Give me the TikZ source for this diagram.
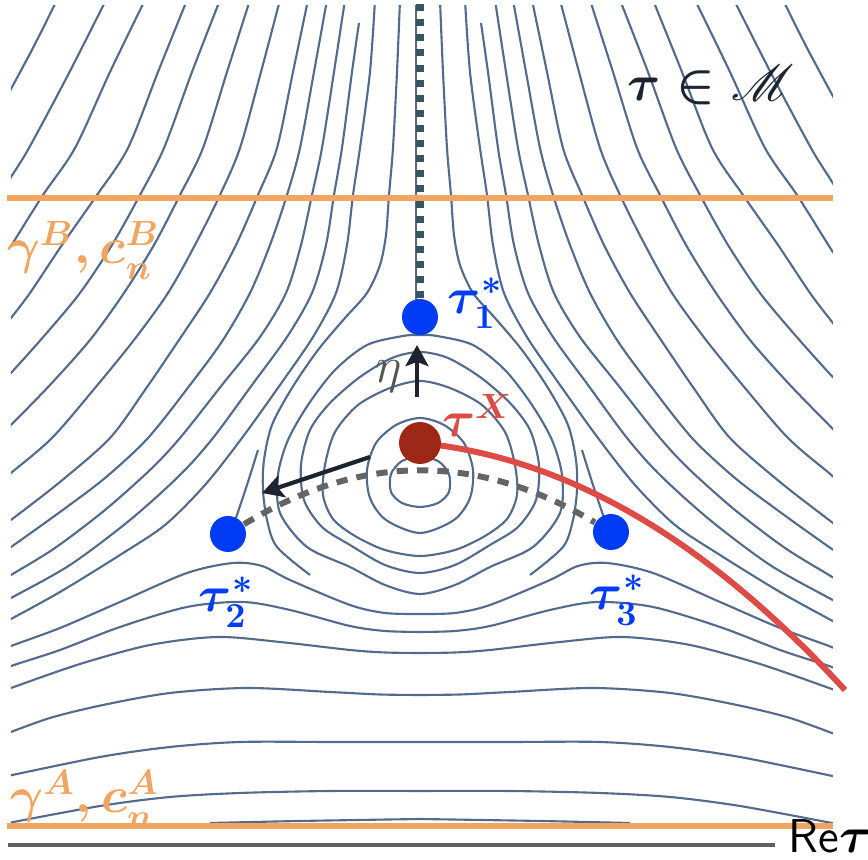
\documentclass[tikz,border=0pt]{standalone}
\usepackage{amsmath,amssymb}
\usepackage{mathrsfs}
\usepackage{tikz}
\usetikzlibrary{arrows.meta}

\definecolor{levc}{RGB}{82,106,140}
\definecolor{pathc}{RGB}{240,165,98}
\definecolor{saddlec}{RGB}{0,60,245}
\definecolor{minc}{RGB}{158,40,24}
\definecolor{flowc}{RGB}{220,75,70}
\definecolor{axc}{RGB}{95,95,95}
\definecolor{dashc}{RGB}{100,100,100}
\definecolor{ridgec}{RGB}{55,85,95}
\definecolor{inkc}{RGB}{30,35,48}
\definecolor{etac}{RGB}{85,85,85}

\begin{document}
\begin{tikzpicture}[
  isoline/.style={levc, line width=0.6pt},
  gate/.style={pathc, line width=1.5pt},
  crit/.style={circle, fill=saddlec, inner sep=0pt, minimum size=0.36cm},
  push/.style={inkc, line width=1.2pt, -{Stealth[length=6pt, width=6.5pt, inset=1.2pt]}},
  lab/.style={inner sep=0pt, font=\fontsize{14}{17}\selectfont\boldmath}]
\useasboundingbox (-4.20,-0.15) rectangle (4.48,8.45);
% линии уровня
\begin{scope}
\clip (-4.09,0.21) rectangle (4.13,8.39);
\foreach \s in {1,-1} {
\begin{scope}[xscale=\s]
\draw [isoline] plot [smooth] coordinates {(-3.63,8.45) (-3.86,7.99) (-4.09,7.56) (-4.18,7.40)};
\draw [isoline] plot [smooth] coordinates {(-3.14,8.45) (-3.52,7.70) (-3.91,6.97) (-4.09,6.68) (-4.17,6.55)};
\draw [isoline] plot [smooth] coordinates {(-2.75,8.45) (-3.10,7.73) (-3.45,6.97) (-3.77,6.50) (-4.09,5.99) (-4.17,5.87)};
\draw [isoline] plot [smooth] coordinates {(-2.33,8.45) (-2.62,7.73) (-2.92,6.97) (-3.23,6.50) (-3.58,6.00) (-3.90,5.52) (-4.09,5.27) (-4.17,5.17)};
\draw [isoline] plot [smooth] coordinates {(-2.00,8.45) (-2.28,7.73) (-2.56,6.97) (-2.80,6.50) (-3.08,6.00) (-3.40,5.52) (-3.75,5.10) (-4.09,4.72) (-4.17,4.64)};
\draw [isoline] plot [smooth] coordinates {(-1.70,8.45) (-1.93,7.73) (-2.17,6.97) (-2.40,6.50) (-2.66,6.00) (-2.96,5.52) (-3.30,5.05) (-3.70,4.60) (-4.09,4.20) (-4.17,4.12)};
\draw [isoline] plot [smooth] coordinates {(-1.40,8.45) (-1.59,7.73) (-1.80,6.97) (-2.00,6.50) (-2.25,6.00) (-2.52,5.52) (-2.86,5.05) (-3.25,4.57) (-3.68,4.07) (-4.09,3.72) (-4.17,3.65)};
\draw [isoline] plot [smooth] coordinates {(-1.12,8.45) (-1.27,7.73) (-1.43,6.97) (-1.62,6.50) (-1.84,6.00) (-2.10,5.52) (-2.41,5.05) (-2.75,4.55) (-3.10,4.07) (-3.60,3.63) (-4.09,3.25) (-4.17,3.19)};
\draw [isoline] plot [smooth] coordinates {(-0.93,8.45) (-1.06,7.73) (-1.20,6.97) (-1.33,6.50) (-1.50,6.00) (-1.70,5.52) (-1.97,5.05) (-2.30,4.60) (-2.72,4.07) (-3.15,3.67) (-3.60,3.33) (-4.09,2.98) (-4.17,2.93)};
\draw [isoline] plot [smooth] coordinates {(-0.75,8.45) (-0.86,7.73) (-0.98,6.97) (-1.08,6.50) (-1.19,6.00) (-1.34,5.52) (-1.60,5.08) (-1.98,4.60) (-2.40,4.07) (-2.70,3.75) (-3.15,3.35) (-3.65,2.97) (-4.09,2.70) (-4.17,2.65)};
\draw [isoline] plot [smooth] coordinates {(-0.61,8.22) (-0.68,7.73) (-0.78,6.97) (-0.86,6.50) (-0.94,6.00) (-1.08,5.52) (-1.33,5.08) (-1.68,4.60) (-2.07,4.07) (-2.40,3.70) (-2.90,3.25) (-3.50,2.80) (-4.09,2.47) (-4.17,2.43)};
\draw [isoline] plot [smooth] coordinates {(-0.45,8.45) (-0.50,7.73) (-0.60,6.97) (-0.67,6.50) (-0.73,6.00) (-0.84,5.52) (-1.07,5.08) (-1.40,4.60) (-1.78,4.07) (-2.15,3.60) (-2.55,3.20) (-3.00,2.90) (-3.60,2.53) (-4.09,2.26) (-4.17,2.22)};
\draw [isoline] plot [smooth] coordinates {(-0.20,8.45) (-0.23,7.73) (-0.27,6.97) (-0.31,6.50) (-0.34,6.10) (-0.40,5.80) (-0.53,5.52) (-0.75,5.27) (-1.02,4.95) (-1.28,4.57) (-1.48,4.20) (-1.56,3.85) (-1.57,3.55) (-1.53,3.25) (-1.43,2.98) (-1.10,2.70)};
\draw [isoline] plot [smooth] coordinates {(-1.84,3.27) (-1.73,3.60) (-1.62,3.95)};
% нижние линии
\draw [isoline] plot [smooth] coordinates {(-4.17,1.95) (-4.09,1.99) (-3.60,2.17) (-3.00,2.43) (-2.33,2.72) (-1.87,2.82) (-1.58,2.79) (-1.30,2.65) (-0.70,2.40) (-0.35,2.32) (0,2.31)};
\draw [isoline] plot [smooth] coordinates {(-4.17,1.75) (-4.09,1.79) (-3.60,1.95) (-3.00,2.18) (-2.33,2.38) (-1.77,2.43) (-1.30,2.35) (-0.70,2.19) (-0.35,2.14) (0,2.13)};
\draw [isoline] plot [smooth] coordinates {(-4.17,1.54) (-4.09,1.57) (-3.40,1.81) (-2.70,2.00) (-2.03,2.08) (-1.40,2.03) (-0.70,1.95) (-0.35,1.925) (0,1.92)};
\draw [isoline] plot [smooth] coordinates {(-4.17,1.10) (-3.70,1.27) (-3.17,1.40) (-2.50,1.52) (-1.73,1.57) (-0.90,1.53) (-0.40,1.505) (0,1.50)};
\draw [isoline] plot [smooth] coordinates {(-4.17,0.68) (-3.20,0.88) (-2.50,0.98) (-1.80,1.03) (-0.90,1.03) (0,1.03)};
\draw [isoline] plot [smooth] coordinates {(-4.17,0.21) (-3.20,0.39) (-2.50,0.48) (-1.80,0.52) (-0.90,0.54) (0,0.54)};
\draw [isoline] plot [smooth] coordinates {(-2.10,0.22) (-1.20,0.24) (0,0.26)};
\end{scope}
}
% петли вокруг tau^X
\draw [isoline] plot [smooth cycle] coordinates {(0,3.88) (0.18,3.84) (0.29,3.71) (0.29,3.53) (0.18,3.42) (0,3.38) (-0.18,3.42) (-0.29,3.53) (-0.29,3.71) (-0.18,3.84)};
\draw [isoline] plot [smooth cycle] coordinates {(0,4.27) (0.24,4.20) (0.44,4.02) (0.53,3.75) (0.50,3.47) (0.34,3.25) (0,3.12) (-0.34,3.25) (-0.50,3.47) (-0.53,3.75) (-0.44,4.02) (-0.24,4.20)};
\draw [isoline] plot [smooth cycle] coordinates {(0,4.64) (0.30,4.57) (0.62,4.40) (0.85,4.13) (0.95,3.80) (0.97,3.50) (0.87,3.26) (0.65,3.09) (0.35,2.95) (0,2.89) (-0.35,2.95) (-0.65,3.09) (-0.87,3.26) (-0.97,3.50) (-0.95,3.80) (-0.85,4.13) (-0.62,4.40) (-0.30,4.57)};
\draw [isoline] plot [smooth cycle] coordinates {(0,4.93) (0.28,4.87) (0.60,4.68) (0.90,4.42) (1.10,4.15) (1.19,3.80) (1.16,3.45) (0.98,3.18) (0.70,3.00) (0.35,2.80) (0,2.72) (-0.35,2.80) (-0.70,3.00) (-0.98,3.18) (-1.16,3.45) (-1.19,3.80) (-1.10,4.15) (-0.90,4.42) (-0.60,4.68) (-0.28,4.87)};
\draw [isoline] plot [smooth cycle] coordinates {(0,5.10) (0.17,5.09) (0.53,5.00) (0.85,4.75) (1.12,4.40) (1.32,4.05) (1.42,3.70) (1.40,3.32) (1.13,2.98) (0.70,2.78) (0.35,2.60) (0,2.51) (-0.35,2.60) (-0.70,2.78) (-1.13,2.98) (-1.40,3.32) (-1.42,3.70) (-1.32,4.05) (-1.12,4.40) (-0.85,4.75) (-0.53,5.00) (-0.17,5.09)};
\draw [isoline] (-0.04,5.45) -- (-0.04,8.45);
\end{scope}
% контуры A и B
\draw [gate] (-4.13,6.47) -- (4.13,6.47);
\draw [gate] (-4.13,0.19) -- (4.13,0.19);
% ось
\draw [axc, line width=1.4pt] (-4.12,0) -- (3.55,0);
\node (re) [inner sep=0pt, anchor=west, font=\fontsize{13.5}{16}\selectfont] at (3.68,0.09) {\textsf{Re}$\boldsymbol{\tau}$};
% точки и пути
\coordinate (cX) at (0,4.02);
\coordinate (fEnd) at (4.25,1.55);
\coordinate (top) at (0,8.45);
\draw [flowc, line width=1.7pt] (cX) .. controls (1.7,3.85) and (3.1,2.8) .. (fEnd);
\node (t1) [crit] at (0,5.28) {};
\node (t2) [crit] at (-1.92,3.11) {};
\node (t3) [crit] at (1.91,3.13) {};
\draw [dashc, line width=1.7pt, dash pattern=on 3.2pt off 2.6pt] (t2) to [bend left=31] (t3);
\draw [ridgec, line width=2.3pt, dash pattern=on 2pt off 2.3pt] (t1) -- (top);
\node (tX) [circle, fill=minc, inner sep=0pt, minimum size=0.42cm] at (cX) {};
% стрелки
\coordinate (eA) at (-0.03,4.48);
\coordinate (eB) at (-0.03,5.00);
\draw [push] (eA) -- (eB);
\coordinate (gA) at (-0.50,3.88);
\coordinate (gB) at (-1.58,3.52);
\draw [push] (gA) -- (gB);
% подписи
\node (l1) [lab, saddlec] at (0.555,5.415) {$\tau_1^*$};
\node (l2) [lab, saddlec] at (-1.935,2.43) {$\tau_2^*$};
\node (l3) [lab, saddlec] at (1.975,2.45) {$\tau_3^*$};
\node (lX) [lab, flowc] at (0.575,4.295) {$\tau^X$};
\node (leta) [inner sep=0pt, etac, font=\fontsize{14}{17}\selectfont] at (-0.31,4.68) {$\eta$};
\node (lM) [lab, inkc] at (2.91,7.60) {$\tau\in\mathscr{M}$};
\node (lB) [lab, pathc] at (-3.365,5.945) {$\gamma^B, c_n^B$};
\node (lA) [lab, pathc] at (-3.35,0.46) {$\gamma^A, c_n^A$};
\end{tikzpicture}
\end{document}
